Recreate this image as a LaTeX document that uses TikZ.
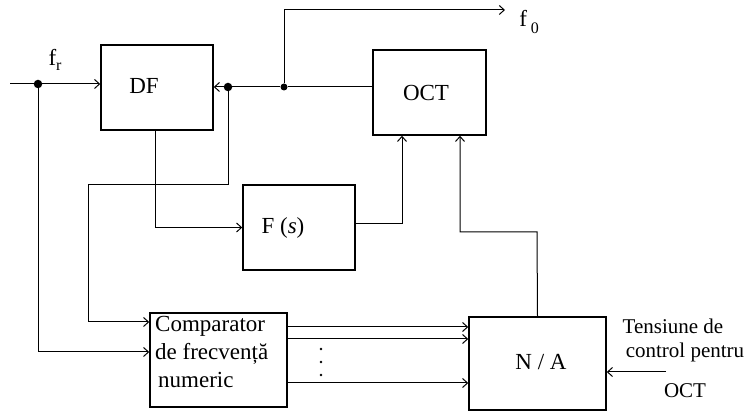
\documentclass[tikz,border=0pt]{standalone}
\usepackage{fontspec}
\setmainfont{Liberation Serif}
\usetikzlibrary{arrows.meta}
\begin{document}
\begin{tikzpicture}[x=1pt,y=-1pt,
  box/.style={draw,line width=1.5pt,minimum width=#1,inner sep=0pt},
  lbl/.style={inner sep=0pt,font=\fontsize{23}{28}\selectfont},
  side/.style={inner sep=0pt,font=\fontsize{21}{25}\selectfont},
  conn/.style={line width=1pt},
  arr/.style={conn,-{Straight Barb[length=5pt,width=9pt]}},
  dotn/.style={circle,fill,inner sep=0pt,minimum size=8.5pt}]
\useasboundingbox (0,0) rectangle (750,411);
% boxes
\node[box=112pt,minimum height=85pt] (DF) at (157,87.5) {};
\node[box=113pt,minimum height=85pt] (OCT) at (429.5,92.5) {};
\node[box=112pt,minimum height=85pt] (Fs) at (299,227.5) {};
\node[box=137pt,minimum height=94pt] (Comp) at (218.5,360) {};
\node[box=137pt,minimum height=93pt] (NA) at (537.5,363.5) {};
% labels
\node[lbl] (tDF) at (144,86) {DF};
\node[lbl] (tOCT) at (426,93) {OCT};
\node[lbl] (tFs) at (283,228) {F (\textit{s})};
\node[lbl] (tNA) at (541,362) {N / A};
\node[lbl,align=left,anchor=north west] (tComp) at (155,316) {Comparator\\de frecvență\\\hspace*{3pt}numeric};
\node[side] (tT1) at (673,326) {Tensiune de};
\node[side] (tT2) at (685,352) {control pentru};
\node[side] (tT3) at (685,391) {OCT};
\node[lbl] (fr) at (55,60) {f\raisebox{-0.45ex}{\fontsize{16}{16}\selectfont r}};
\node[lbl] (f0) at (529,22) {f\,\raisebox{-0.6ex}{\fontsize{16}{16}\selectfont 0}};
% dots and coordinates
\node[dotn] (d1) at (38,84) {};
\node[dotn] (d2) at (228,87) {};
\node[dotn,minimum size=7pt] (d3) at (284,87) {};
\coordinate (in) at (10,84);
\coordinate (c1) at (88,185);
\coordinate (c2) at (537,232);
\coordinate (top) at (284,10);
\coordinate (out) at (505,10);
\coordinate (tin) at (666,372);
% connectors
\draw[conn] (in) -- (d1);
\draw[arr] (d1) -- (d1 -| DF.west);
\draw[arr] (d2) -- (d2 -| DF.east);
\draw[conn] (d3 -| OCT.west) -- (d3) -- (d2);
\draw[arr] (d3) -- (top) -- (out);
\draw[arr] ([xshift=-2pt]DF.south) |- (Fs.west);
\draw[arr] (d2) |- (c1) |- ([yshift=38pt]Comp.west);
\draw[arr] (d1) |- ([yshift=8pt]Comp.west);
\draw[arr] ([yshift=4pt]Fs.east) -| ([xshift=-27.5pt]OCT.south);
\draw[arr] (NA.north) -- (c2) -| ([xshift=30.5pt]OCT.south);
\draw[arr] ([yshift=33pt]Comp.east) -- ([yshift=33pt]Comp.east -| NA.west);
\draw[arr] ([yshift=21pt]Comp.east) -- ([yshift=21pt]Comp.east -| NA.west);
\draw[arr] ([yshift=-23pt]Comp.east) -- ([yshift=-23pt]Comp.east -| NA.west);
\node[circle,fill,inner sep=0pt,minimum size=2.8pt] (v1) at (321,349) {};
\node[circle,fill,inner sep=0pt,minimum size=2.8pt] (v2) at (321,362) {};
\node[circle,fill,inner sep=0pt,minimum size=2.8pt] (v3) at (321,375) {};
\draw[arr] (tin) -- (tin -| NA.east);
\end{tikzpicture}
\end{document}
